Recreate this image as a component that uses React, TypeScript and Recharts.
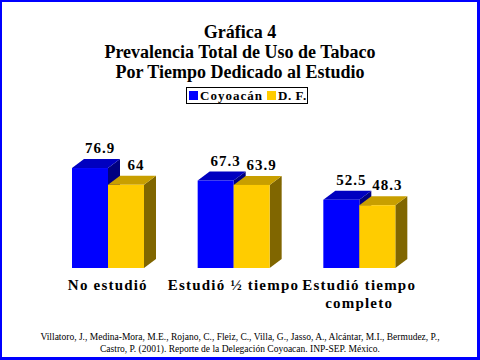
import React from 'react';
import { BarChart, Bar, XAxis, YAxis, LabelList } from 'recharts';

const categories = ['No estudió', 'Estudió ½ tiempo', 'Estudió tiempo\ncompleto'];
const coyoacan = [76.9, 67.3, 52.5];
const df = [64, 63.9, 48.3];

const titleLines = ['Gráfica 4', 'Prevalencia Total de Uso de Tabaco', 'Por Tiempo Dedicado al Estudio'];
const sourceLines = [
    'Villatoro, J., Medina-Mora, M.E., Rojano, C., Fleiz, C., Villa, G., Jasso, A., Alcántar, M.I., Bermudez, P.,',
    'Castro, P. (2001). Reporte de la Delegación Coyoacan. INP-SEP. México.',
];

const data = categories.map((c, i) => ({ name: c, coyoacan: coyoacan[i], df: df[i] }));

const SERIF = '"Liberation Serif", "Times New Roman", serif';
const DX = 12;
const DY = 9;

const make3D = (front: string, top: string, side: string) => (props: any) => {
    const { x, y, width, height } = props;
    if (height == null || height <= 0) return <g />;
    return (
        <g>
            <polygon
                points={`${x + width},${y} ${x + width + DX},${y - DY} ${x + width + DX},${y + height - DY} ${x + width},${y + height}`}
                fill={side}
            />
            <polygon
                points={`${x},${y} ${x + DX},${y - DY} ${x + width + DX},${y - DY} ${x + width},${y}`}
                fill={top}
            />
            <rect x={x} y={y} width={width} height={height} fill={front} />
        </g>
    );
};

const valueLabel = (props: any) => {
    const { x, y, width, value } = props;
    return (
        <text
            x={x + width / 2 + 10}
            y={y - DY - 6}
            textAnchor="middle"
            fontFamily={SERIF}
            fontWeight="bold"
            fontSize={15}
            letterSpacing={1}
            fill="#000"
        >
            {value}
        </text>
    );
};

const CategoryTick = (props: any) => {
    const { x, y, payload } = props;
    const lines = String(payload.value).split('\n');
    return (
        <text x={x} y={y} textAnchor="middle" fontFamily={SERIF} fontWeight="bold" fontSize={15} letterSpacing={1.2} fill="#000">
            {lines.map((l, i) => (
                <tspan key={i} x={x} dy={i === 0 ? 14 : 18}>{l}</tspan>
            ))}
        </text>
    );
};

const swatch = (color: string): React.CSSProperties => ({
    display: 'inline-block', width: 9, height: 9, background: color, marginRight: 2, flex: 'none',
});

export default function App() {
    return (
        <div style={{ position: 'absolute', left: 0, top: 0, width: 480, height: 360, background: '#fff', fontFamily: SERIF }}>
            <div style={{ position: 'absolute', left: 0, top: 22, width: 480, textAlign: 'center', fontWeight: 'bold', fontSize: 18, lineHeight: '20px', color: '#000' }}>
                {titleLines.map((t) => (
                    <div key={t}>{t}</div>
                ))}
            </div>
            <div style={{ position: 'absolute', left: 186, top: 87, width: 122, height: 17, boxSizing: 'border-box', border: '1px solid #000', display: 'flex', alignItems: 'center', whiteSpace: 'nowrap', paddingLeft: 2, fontWeight: 'bold', fontSize: 13, letterSpacing: 1, color: '#000' }}>
                <span style={swatch('#0000ff')} />
                <span>Coyoacán</span>
                <span style={{ ...swatch('#ffcc00'), marginLeft: 4 }} />
                <span style={{ letterSpacing: 0.6 }}>D. F.</span>
            </div>
            <div style={{ position: 'absolute', left: 0, top: 0 }}>
                <BarChart width={480} height={360} data={data} margin={{ top: 138, right: 58, left: 45, bottom: 52 }} barGap={0} barSize={36}>
                    <XAxis dataKey="name" axisLine={false} tickLine={false} height={40} interval={0} tick={<CategoryTick />} />
                    <YAxis hide domain={[0, 100]} />
                    <Bar dataKey="coyoacan" isAnimationActive={false} shape={make3D('#0000ff', '#0000c0', '#000080')}>
                        <LabelList dataKey="coyoacan" content={valueLabel} />
                    </Bar>
                    <Bar dataKey="df" isAnimationActive={false} shape={make3D('#ffcc00', '#c89f00', '#806600')}>
                        <LabelList dataKey="df" content={valueLabel} />
                    </Bar>
                </BarChart>
            </div>
            <div style={{ position: 'absolute', left: 0, top: 331, width: 480, textAlign: 'center', fontSize: 9.5, lineHeight: '12px', color: '#000' }}>
                {sourceLines.map((t) => (
                    <div key={t}>{t}</div>
                ))}
            </div>
            <div style={{ position: 'absolute', left: 0, top: 0, width: 480, height: 360, boxSizing: 'border-box', borderStyle: 'solid', borderColor: '#0000ff', borderWidth: '2px 3px 3px 2px', pointerEvents: 'none' }} />
        </div>
    );
}
